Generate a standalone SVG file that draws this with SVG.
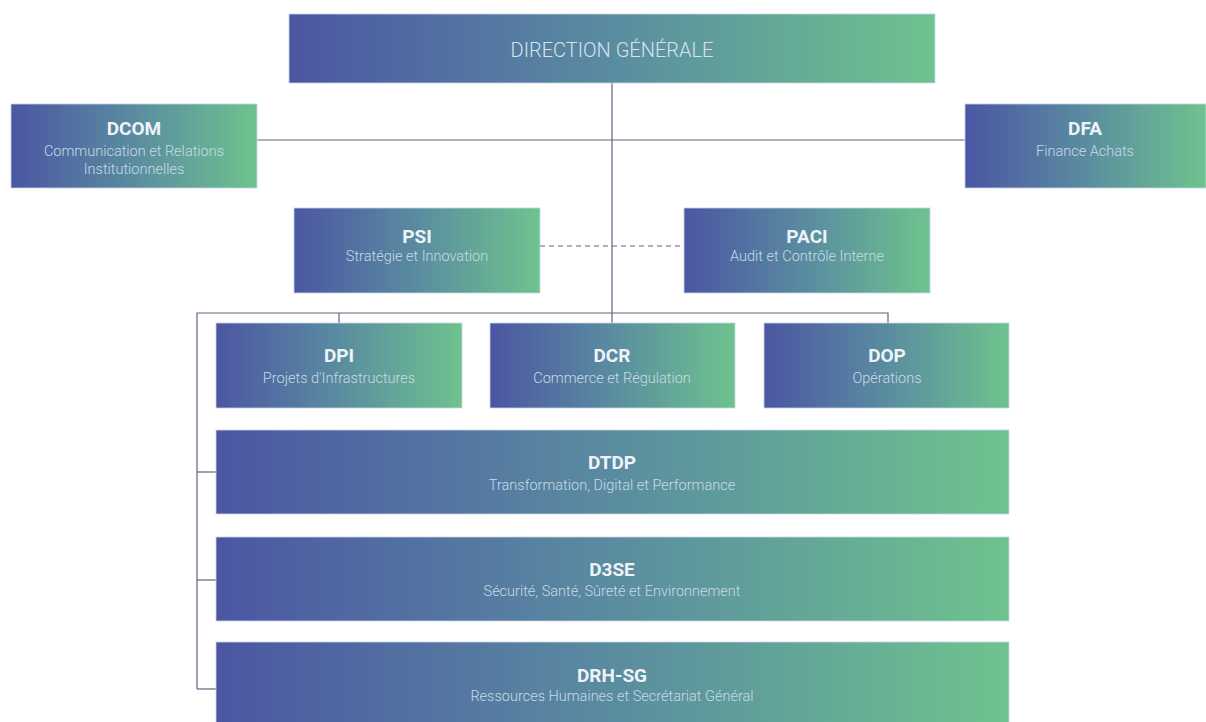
<svg xmlns="http://www.w3.org/2000/svg" width="1206" height="722" viewBox="0 0 1206 722">
<defs>
<linearGradient id="g" x1="0" y1="0" x2="1" y2="0">
<stop offset="0" stop-color="#4b56a3"/>
<stop offset="0.5" stop-color="#5a8ca0"/>
<stop offset="1" stop-color="#6ec38e"/>
</linearGradient>
<style>
.box{fill:url(#g);stroke:#c9d6e6;stroke-width:0.8}
.t{font-family:Roboto,"Liberation Sans",sans-serif;font-weight:bold;font-size:19px;fill:#eef3f7;text-anchor:middle}
.s{font-family:Roboto,"Liberation Sans",sans-serif;font-weight:300;font-size:14.5px;fill:#c8dbe6;text-anchor:middle}
.dg{font-family:Roboto,"Liberation Sans",sans-serif;font-weight:300;font-size:20px;fill:#d4e4ee;text-anchor:middle}
.ln{stroke:#5b6680;stroke-width:1.2;fill:none}
.dash{stroke:#5b6680;stroke-width:1.2;fill:none;stroke-dasharray:5 4}
</style>
</defs>
<rect width="1206" height="722" fill="#ffffff"/>
<g id="connectors">
<line class="ln" x1="612" y1="83" x2="612" y2="313"/>
<line class="ln" x1="257" y1="140" x2="965" y2="140"/>
<line class="dash" x1="540" y1="246" x2="684" y2="246"/>
<polyline class="ln" points="197,689 197,313 888,313 888,323"/>
<line class="ln" x1="339" y1="313" x2="339" y2="323"/>
<line class="ln" x1="612" y1="313" x2="612" y2="323"/>
<line class="ln" x1="197" y1="472" x2="216" y2="472"/>
<line class="ln" x1="197" y1="580" x2="216" y2="580"/>
<line class="ln" x1="197" y1="689" x2="216" y2="689"/>
</g>
<g id="dg">
<rect class="box" x="289" y="14" width="646" height="69"/>
<text class="dg" x="612" y="57">DIRECTION GÉNÉRALE</text>
</g>
<g id="dcom">
<rect class="box" x="11" y="104" width="246" height="84"/>
<text class="t" x="134" y="135">DCOM</text>
<text class="s" x="134" y="156">Communication et Relations</text>
<text class="s" x="134" y="174">Institutionnelles</text>
</g>
<g id="dfa">
<rect class="box" x="965" y="104" width="241" height="84"/>
<text class="t" x="1085" y="135">DFA</text>
<text class="s" x="1085" y="156">Finance Achats</text>
</g>
<g id="psi">
<rect class="box" x="294" y="208" width="246" height="85"/>
<text class="t" x="417" y="243">PSI</text>
<text class="s" x="417" y="261">Stratégie et Innovation</text>
</g>
<g id="paci">
<rect class="box" x="684" y="208" width="246" height="85"/>
<text class="t" x="807" y="243">PACI</text>
<text class="s" x="807" y="261">Audit et Contrôle Interne</text>
</g>
<g id="dpi">
<rect class="box" x="216" y="323" width="246" height="85"/>
<text class="t" x="339" y="362">DPI</text>
<text class="s" x="339" y="383">Projets d'Infrastructures</text>
</g>
<g id="dcr">
<rect class="box" x="490" y="323" width="245" height="85"/>
<text class="t" x="612" y="362">DCR</text>
<text class="s" x="612" y="383">Commerce et Régulation</text>
</g>
<g id="dop">
<rect class="box" x="764" y="323" width="245" height="85"/>
<text class="t" x="887" y="362">DOP</text>
<text class="s" x="887" y="383">Opérations</text>
</g>
<g id="dtdp">
<rect class="box" x="216" y="430" width="793" height="84"/>
<text class="t" x="612" y="469">DTDP</text>
<text class="s" x="612" y="490">Transformation, Digital et Performance</text>
</g>
<g id="d3se">
<rect class="box" x="216" y="537" width="793" height="84"/>
<text class="t" x="612" y="576">D3SE</text>
<text class="s" x="612" y="596">Sécurité, Santé, Sûreté et Environnement</text>
</g>
<g id="drhsg">
<rect class="box" x="216" y="642" width="793" height="90"/>
<text class="t" x="612" y="682">DRH-SG</text>
<text class="s" x="612" y="701">Ressources Humaines et Secrétariat Général</text>
</g>
</svg>
